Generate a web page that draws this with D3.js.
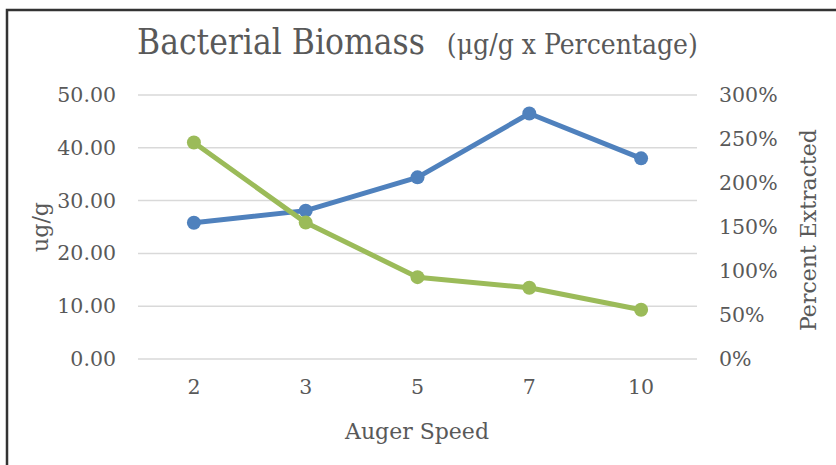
<!DOCTYPE html>
<html>
<head>
<meta charset="utf-8">
<title>Bacterial Biomass</title>
<script src="https://cdn.jsdelivr.net/npm/d3@7"></script>
<style>
body { margin: 0; background: #fff; }
text { font-family: "DejaVu Serif", serif; fill: #595959; }
</style>
</head>
<body>
<svg id="chart"></svg>
<script>

var speeds = ["2", "3", "5", "7", "10"];
var biomass = [25.8, 28.1, 34.4, 46.5, 38.0];
var extracted = [2.46, 1.55, 0.93, 0.81, 0.56];
var leftTicks = [0, 10, 20, 30, 40, 50];
var rightTicks = [0, 0.5, 1, 1.5, 2, 2.5, 3];

var W = 836, H = 465;
var svg = d3.select("#chart").attr("width", W).attr("height", H);

svg.append("rect").attr("x", 0).attr("y", 0).attr("width", W).attr("height", H).attr("fill", "#fff");
// frame: top and left edges only
svg.append("path").attr("d", "M7,465 V10 H836").attr("fill", "none").attr("stroke", "#333").attr("stroke-width", 2.5);

var pL = 138, pR = 697, pT = 95, pB = 359;

var x = d3.scaleBand().domain(speeds).range([pL, pR]);
var yL = d3.scaleLinear().domain([0, 50]).range([pB, pT]);
var yR = d3.scaleLinear().domain([0, 3]).range([pB, pT]);

// gridlines
svg.append("g").selectAll("line")
  .data(leftTicks)
  .enter().append("line")
    .attr("x1", pL).attr("x2", pR)
    .attr("y1", function(d) { return yL(d); })
    .attr("y2", function(d) { return yL(d); })
    .attr("stroke", "#d9d9d9").attr("stroke-width", 1.5);

var axL = svg.append("g").attr("transform", "translate(" + (pL - 22) + ",0)")
  .call(d3.axisLeft(yL).tickValues(leftTicks).tickFormat(d3.format(".2f")).tickSize(0).tickPadding(0));
var axR = svg.append("g").attr("transform", "translate(" + (pR + 22) + ",0)")
  .call(d3.axisRight(yR).tickValues(rightTicks).tickFormat(d3.format(".0%")).tickSize(0).tickPadding(0));
var axB = svg.append("g").attr("transform", "translate(0," + (pB + 18) + ")")
  .call(d3.axisBottom(x).tickSize(0).tickPadding(0));

[axL, axR, axB].forEach(function(a) {
  a.select(".domain").remove();
  a.selectAll("text").style("font-family", "DejaVu Serif").style("font-size", "20.5px").attr("fill", "#595959");
});
axB.selectAll("text").attr("dy", "0.85em");

function drawSeries(values, y, color) {
  var pts = values.map(function(v, i) { return [x(speeds[i]) + x.bandwidth() / 2, y(v)]; });
  svg.append("path")
    .attr("d", d3.line()(pts))
    .attr("fill", "none").attr("stroke", color).attr("stroke-width", 5)
    .attr("stroke-linejoin", "round");
  svg.append("g").selectAll("circle")
    .data(pts)
    .enter().append("circle")
      .attr("cx", function(d) { return d[0]; })
      .attr("cy", function(d) { return d[1]; })
      .attr("r", 7)
      .attr("fill", color);
}

drawSeries(biomass, yL, "#4f81bd");
drawSeries(extracted, yR, "#9bbb59");

// titles
var t = svg.append("text").attr("x", 137).attr("y", 54);
t.append("tspan").text("Bacterial Biomass")
  .style("font-family", "DejaVu Serif Condensed").style("font-size", "35px");
t.append("tspan").attr("dx", 22).text("(μg/g x Percentage)")
  .style("font-family", "DejaVu Serif Condensed").style("font-size", "28px");

svg.append("text").attr("x", 417).attr("y", 439).attr("text-anchor", "middle")
  .style("font-size", "22px").text("Auger Speed");
svg.append("text").attr("transform", "translate(48,227) rotate(-90)").attr("text-anchor", "middle")
  .style("font-size", "22px").text("ug/g");
svg.append("text").attr("transform", "translate(816,230) rotate(-90)").attr("text-anchor", "middle")
  .style("font-size", "22px").text("Percent Extracted");

</script>
</body>
</html>
